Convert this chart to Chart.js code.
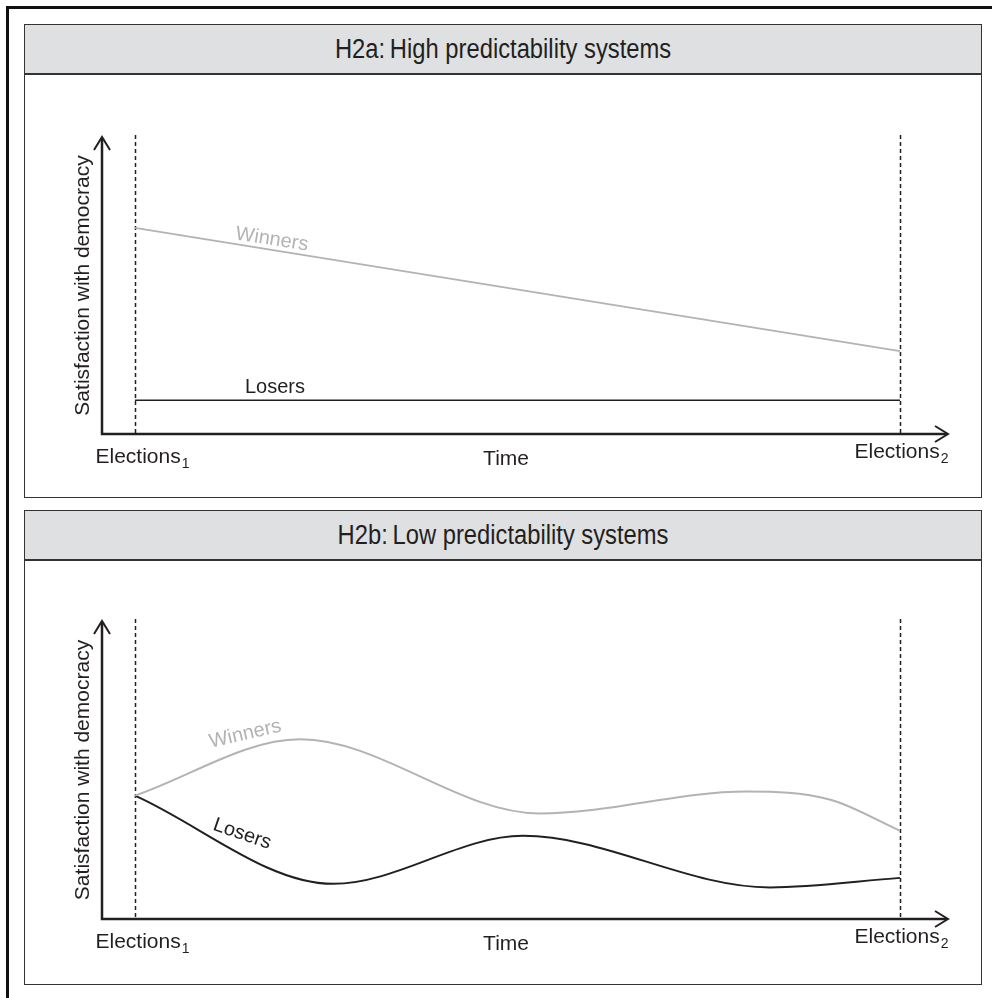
<!DOCTYPE html>
<html>
<head>
<meta charset="utf-8">
<script src="https://cdn.jsdelivr.net/npm/chart.js@4.4.1/dist/chart.umd.min.js"></script>
<style>
  body { margin: 0; background: #fff; font-family: 'Liberation Sans', Arial, sans-serif; }
  #page { position: relative; width: 992px; height: 998px; overflow: hidden; }
  .frame-left { position: absolute; left: 6px; top: 6px; width: 3px; height: 992px; background: #111; }
  .frame-top { position: absolute; left: 6px; top: 6px; width: 986px; height: 3px; background: #111; }
  .panel { position: absolute; left: 24px; width: 958px; border: 1.5px solid #333; box-sizing: border-box; }
  .header { height: 50px; background: #dfe0e2; border-bottom: 2px solid #333; box-sizing: border-box;
            text-align: center; line-height: 48px; font-size: 27px; color: #231f20; }
  .header span { display: inline-block; transform: scaleX(0.88); }
  canvas { position: absolute; left: 26px; }
</style>
</head>
<body>
<div id="page">
  <div class="frame-left"></div>
  <div class="frame-top"></div>

  <div class="panel" style="top:24px; height:474px;">
    <div class="header"><span>H2a:&thinsp;High predictability systems</span></div>
  </div>
  <div class="panel" style="top:510px; height:475px;">
    <div class="header"><span>H2b:&thinsp;Low predictability systems</span></div>
  </div>

  <canvas id="chartA" width="954" height="418" style="top:78px;"></canvas>
  <canvas id="chartB" width="954" height="418" style="top:564px;"></canvas>
</div>

<script>
// time runs from Elections1 (0) to Elections2 (1); satisfaction on a 0-10 scale
const electionTimes = [0, 1];

// H2a: high predictability
const winnersTimeA = [0, 1];
const winnersA = [6.94, 2.79];
const losersTimeA = [0, 1];
const losersA = [1.14, 1.14];

// H2b: low predictability (turning points plus ends)
const winnersTimeB = [0, 0.216, 0.529, 0.80, 0.908, 1];
const winnersB = [4.14, 6.03, 3.54, 4.28, 4.01, 2.96];
const losersTimeB = [0, 0.259, 0.507, 0.83, 1];
const losersB = [4.14, 1.18, 2.79, 1.06, 1.38];

const ink = '#231f20';
const grey = '#b3b3b3';
const font = "'Liberation Sans', Arial, sans-serif";

function toPoints(xs, ys) {
  return ys.map((y, i) => ({ x: xs[i], y: y }));
}

function electionLabel(ctx, text, sub, cx, baseline) {
  ctx.font = '21px ' + font;
  const w = ctx.measureText(text).width;
  ctx.font = '14px ' + font;
  const ws = ctx.measureText(sub).width;
  let left = cx - (w + ws) / 2;
  ctx.textAlign = 'left';
  ctx.textBaseline = 'alphabetic';
  ctx.font = '21px ' + font;
  ctx.fillText(text, left, baseline);
  ctx.font = '14px ' + font;
  ctx.fillText(sub, left + w + 1, baseline + 5);
}

// draws the arrowed axes, the dashed election markers and all text
const sketchPlugin = {
  id: 'sketch',
  beforeDatasetsDraw(chart) {
    const { ctx, chartArea: a, scales: { x } } = chart;
    ctx.save();
    ctx.strokeStyle = ink;
    ctx.lineWidth = 1.5;
    ctx.setLineDash([4, 3]);
    electionTimes.forEach(t => {
      const px = Math.round(x.getPixelForValue(t)) + 0.5;
      ctx.beginPath();
      ctx.moveTo(px, a.top - 2);
      ctx.lineTo(px, a.bottom);
      ctx.stroke();
    });
    ctx.restore();
  },
  afterDraw(chart, args, opts) {
    const { ctx, chartArea: a, scales: { x, y } } = chart;
    ctx.save();
    ctx.strokeStyle = ink;
    ctx.lineWidth = 2.5;
    ctx.lineCap = 'butt';
    ctx.beginPath();
    ctx.moveTo(a.left, a.top + 1);
    ctx.lineTo(a.left, a.bottom);
    ctx.lineTo(a.right - 1, a.bottom);
    ctx.stroke();
    // arrow heads
    ctx.lineWidth = 2;
    ctx.beginPath();
    ctx.moveTo(a.left - 8, a.top + 13);
    ctx.lineTo(a.left, a.top);
    ctx.lineTo(a.left + 8, a.top + 13);
    ctx.moveTo(a.right - 13, a.bottom - 8);
    ctx.lineTo(a.right, a.bottom);
    ctx.lineTo(a.right - 13, a.bottom + 8);
    ctx.stroke();

    ctx.fillStyle = ink;
    // y axis title
    ctx.save();
    ctx.translate(a.left - 19, (a.top + a.bottom) / 2);
    ctx.rotate(-Math.PI / 2);
    ctx.font = '21px ' + font;
    ctx.textAlign = 'center';
    ctx.textBaseline = 'middle';
    ctx.fillText('Satisfaction with democracy', 0, 0);
    ctx.restore();

    // x axis texts
    electionLabel(ctx, 'Elections', '1', x.getPixelForValue(electionTimes[0]) + 7, a.bottom + 29);
    electionLabel(ctx, 'Elections', '2', x.getPixelForValue(electionTimes[1]) + 1, a.bottom + 24);
    ctx.font = '21px ' + font;
    ctx.textAlign = 'center';
    ctx.textBaseline = 'alphabetic';
    ctx.fillText('Time', x.getPixelForValue(0.485), a.bottom + 31);

    // series labels
    (opts.labels || []).forEach(l => {
      ctx.save();
      ctx.translate(x.getPixelForValue(l.x), y.getPixelForValue(l.y));
      ctx.rotate(l.angle * Math.PI / 180);
      ctx.fillStyle = l.color;
      ctx.font = '20px ' + font;
      ctx.textAlign = 'center';
      ctx.textBaseline = 'middle';
      ctx.fillText(l.text, 0, 0);
      ctx.restore();
    });
    ctx.restore();
  }
};

function makeChart(id, winT, win, loseT, lose, curved, losersWidth, labels, pad) {
  const mode = curved ? 'monotone' : 'default';
  return new Chart(document.getElementById(id).getContext('2d'), {
    type: 'line',
    data: {
      datasets: [
        {
          label: 'Winners',
          data: toPoints(winT, win),
          borderColor: grey,
          borderWidth: 2,
          pointRadius: 0,
          cubicInterpolationMode: mode,
          tension: 0
        },
        {
          label: 'Losers',
          data: toPoints(loseT, lose),
          borderColor: ink,
          borderWidth: losersWidth,
          pointRadius: 0,
          cubicInterpolationMode: mode,
          tension: 0
        }
      ]
    },
    options: {
      responsive: false,
      animation: false,
      layout: { padding: pad },
      scales: {
        x: { type: 'linear', min: -33 / 765, max: 1 + 48 / 765, display: false },
        y: { min: 0, max: 10, display: false }
      },
      plugins: {
        legend: { display: false },
        tooltip: { enabled: false },
        sketch: { labels: labels }
      }
    },
    plugins: [sketchPlugin]
  });
}

makeChart('chartA', winnersTimeA, winnersA, losersTimeA, losersA, false, 1.5, [
  { text: 'Winners', x: 0.179, y: 6.55, angle: 9, color: grey },
  { text: 'Losers', x: 0.183, y: 1.55, angle: 0, color: ink }
], { left: 76, right: 32, top: 59, bottom: 62 });

makeChart('chartB', winnersTimeB, winnersB, losersTimeB, losersB, true, 2, [
  { text: 'Winners', x: 0.144, y: 6.2, angle: -13, color: grey },
  { text: 'Losers', x: 0.14, y: 2.85, angle: 19, color: ink }
], { left: 76, right: 32, top: 57, bottom: 63 });
</script>
</body>
</html>
